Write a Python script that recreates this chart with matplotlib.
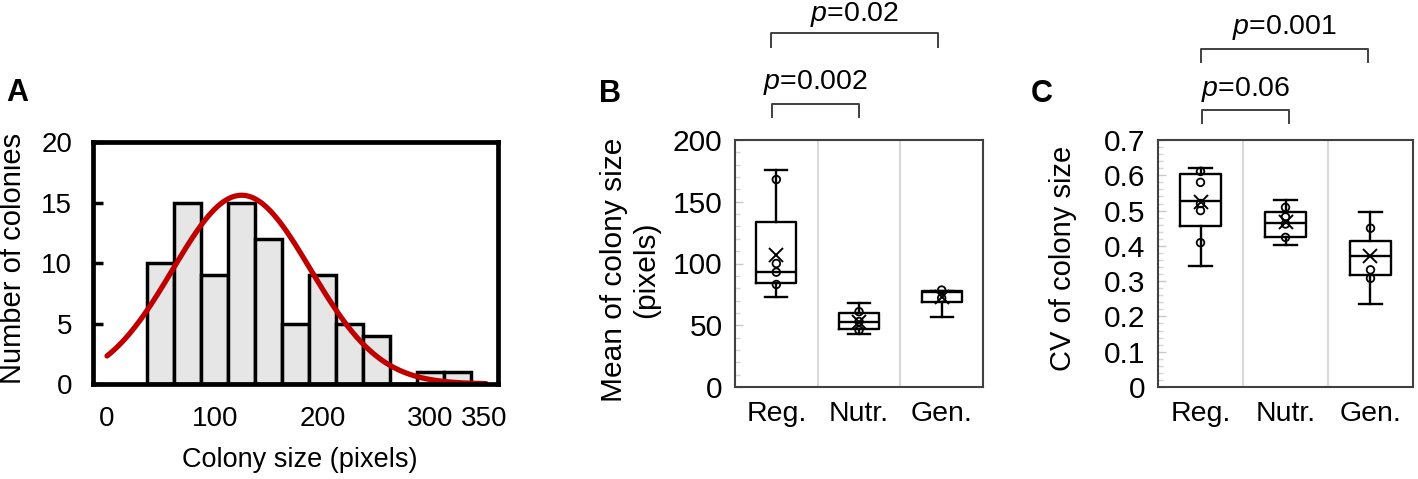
import numpy as np
import matplotlib.pyplot as plt
from matplotlib.ticker import MultipleLocator

plt.rcParams["font.family"] = ["Liberation Sans", "DejaVu Sans"]
plt.rcParams["mathtext.fontset"] = "custom"
plt.rcParams["mathtext.rm"] = "Liberation Sans"
plt.rcParams["mathtext.it"] = "Liberation Sans:italic"

# === PANEL A: histogram of colony sizes ===
bin_edges = [37.5, 62.5, 87.5, 112.5, 137.5, 162.5, 187.5, 212.5, 237.5, 262.5, 287.5, 312.5]
bin_counts = [10, 15, 9, 15, 12, 5, 9, 5, 4, 0, 1, 1]
bin_width = 25
# normal fit drawn over the histogram
fit_mean = 125
fit_sd = 64
fit_peak = 15.6
fit_range = (0, 352)

# === PANELS B and C: box plots ===
groups = ["Reg.", "Nutr.", "Gen."]

mean_stats = [
    dict(whislo=73, q1=84, med=93, q3=134, whishi=176, mean=107),
    dict(whislo=43, q1=47, med=53, q3=60, whishi=68, mean=53),
    dict(whislo=57, q1=69, med=77, q3=78, whishi=78, mean=73),
]
mean_points = [[168, 100, 93, 83], [61, 53, 46], [78.5, 72]]
mean_pvals = ["$p$=0.002", "$p$=0.02"]

cv_stats = [
    dict(whislo=0.344, q1=0.456, med=0.527, q3=0.604, whishi=0.62, mean=0.525),
    dict(whislo=0.403, q1=0.424, med=0.466, q3=0.496, whishi=0.530, mean=0.468),
    dict(whislo=0.234, q1=0.317, med=0.372, q3=0.415, whishi=0.495, mean=0.37),
]
cv_points = [[0.611, 0.58, 0.52, 0.50, 0.409], [0.509, 0.482, 0.462, 0.424], [0.45, 0.332, 0.308]]
cv_pvals = ["$p$=0.06", "$p$=0.001"]

FS = 20
W, H = 1418, 479
fig = plt.figure(figsize=(W / 100, H / 100), dpi=100)


def fx(px):
    return px / W


def fy(py):
    return 1 - py / H


# --- A ---
axA = fig.add_axes([fx(93), fy(384), fx(405), 242 / H])
axA.bar(bin_edges, bin_counts, width=bin_width, align="edge",
        color="#e6e6e6", edgecolor="black", linewidth=2.5, zorder=2)
xs = np.linspace(fit_range[0], fit_range[1], 300)
ys = fit_peak * np.exp(-0.5 * ((xs - fit_mean) / fit_sd) ** 2)
axA.plot(xs, ys, color="#c00000", linewidth=3.8, zorder=3, solid_capstyle="round")
axA.set_xlim(-13, 363)
axA.set_ylim(0, 20)
axA.set_xticks([0, 100, 200, 300, 350])
axA.set_yticks([0, 5, 10, 15, 20])
for s in axA.spines.values():
    s.set_linewidth(3.4)
    s.set_zorder(4)
axA.tick_params(axis="y", direction="in", length=7, width=2.5, labelsize=FS, pad=15)
axA.tick_params(axis="x", length=0, labelsize=FS, pad=16)
fig.text(fx(13), fy(258), "Number of colonies", rotation=90, ha="center", va="center", fontsize=FS + 1)
fig.text(fx(300), fy(460), "Colony size (pixels)", ha="center", va="center", fontsize=FS - 0.5)
fig.text(fx(17), fy(93), "A", ha="center", va="center", fontsize=22, fontweight="bold")


def box_panel(ax, stats, points, ymax, major, minor, pvals, brackets):
    ax.set_xlim(-0.5, 2.5)
    ax.set_ylim(0, ymax)
    for b in (0.5, 1.5):
        ax.axvline(b, color="#d9d9d9", linewidth=1.5, zorder=0)
    ax.bxp(stats, positions=range(len(stats)), widths=0.48, showfliers=False,
           showmeans=True, whiskerprops=dict(color="black", linewidth=1.7),
           capprops=dict(color="black", linewidth=1.7), capwidths=0.27,
           boxprops=dict(color="black", linewidth=1.7),
           medianprops=dict(color="black", linewidth=1.7),
           meanprops=dict(marker="x", markeredgecolor="black", markersize=10,
                          markeredgewidth=1.4))
    for i, pts in enumerate(points):
        ax.scatter([i] * len(pts), pts, s=30, facecolors="none", edgecolors="black",
                   linewidths=1.3, zorder=4)
    ax.set_xticks(range(len(groups)))
    ax.set_xticklabels(groups)
    ax.yaxis.set_major_locator(MultipleLocator(major))
    ax.yaxis.set_minor_locator(MultipleLocator(minor))
    for s in ax.spines.values():
        s.set_linewidth(1.5)
        s.set_color("#404040")
    ax.tick_params(axis="y", which="major", direction="in", length=6, width=1,
                   color="#c8c8c8", labelcolor="black", labelsize=FS + 1.5, pad=9)
    ax.tick_params(axis="y", which="minor", direction="in", length=3.5, width=1,
                   color="#d5d5d5")
    ax.tick_params(axis="x", length=0, labelsize=FS + 0.5, pad=10)
    # significance brackets: (x0, x1, y_bar, y_end, y_text) in axes fraction for y
    for txt, (x0, x1, ybar, yend, ytxt) in zip(pvals, brackets):
        ax.plot([x0, x0, x1, x1], [yend, ybar, ybar, yend], color="#404040", linewidth=1.4,
                transform=ax.get_xaxis_transform(), clip_on=False)
        ax.text((x0 + x1) / 2, ytxt, txt, ha="center", va="center", fontsize=FS + 0.5,
                transform=ax.get_xaxis_transform())


# --- B ---
axB = fig.add_axes([fx(735), fy(387), fx(248), 247 / H])
box_panel(axB, mean_stats, mean_points, 200, 50, 10, mean_pvals,
          [(-0.05, 1.0, 1.146, 1.093, 1.231), (-0.06, 1.96, 1.433, 1.377, 1.51)])
fig.text(fx(630), fy(270), "Mean of colony size\n(pixels)", rotation=90, ha="center",
         va="center", fontsize=FS + 1.5, linespacing=1.15)
fig.text(fx(610), fy(94), "B", ha="center", va="center", fontsize=22, fontweight="bold")

# --- C ---
axC = fig.add_axes([fx(1158), fy(387), fx(255), 247 / H])
box_panel(axC, cv_stats, cv_points, 0.7, 0.1, 0.02, cv_pvals,
          [(0.02, 1.04, 1.121, 1.069, 1.206), (0.0, 1.97, 1.368, 1.316, 1.457)])
axC.set_yticks([0, 0.1, 0.2, 0.3, 0.4, 0.5, 0.6, 0.7])
axC.set_yticklabels(["0", "0.1", "0.2", "0.3", "0.4", "0.5", "0.6", "0.7"])
fig.text(fx(1063), fy(258), "CV of colony size", rotation=90, ha="center", va="center",
         fontsize=FS + 1)
fig.text(fx(1042), fy(94), "C", ha="center", va="center", fontsize=22, fontweight="bold")

fig.savefig("out.png", dpi=100)
